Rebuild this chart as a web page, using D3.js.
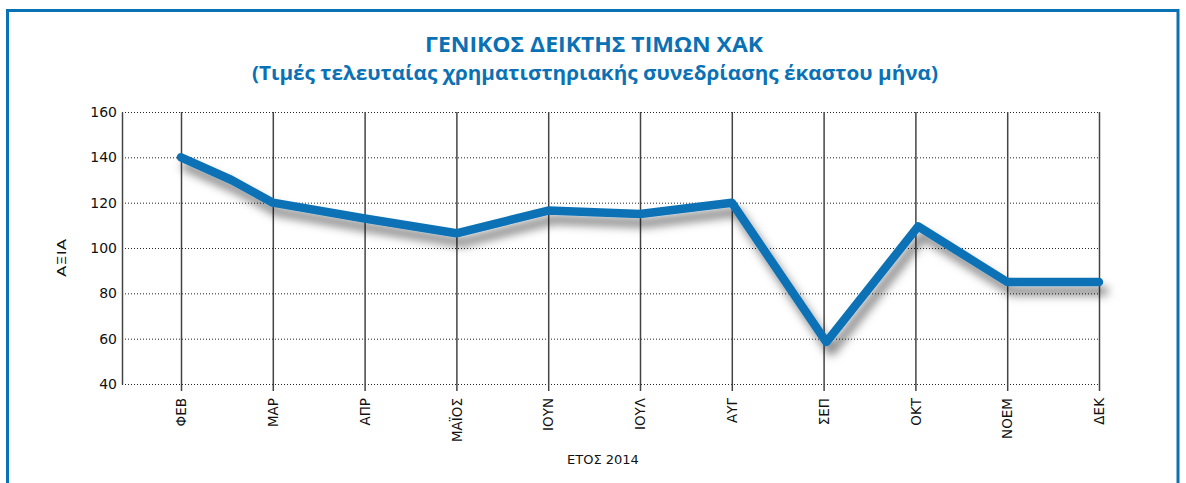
<!DOCTYPE html>
<html>
<head>
<meta charset="utf-8">
<script src="https://cdn.jsdelivr.net/npm/d3@7"></script>
<style>
  body { margin: 0; background: #fff; }
  .tick text { font-family: "DejaVu Sans", sans-serif; fill: #111; }
</style>
</head>
<body>
<div id="chart"></div>
<script>
// month labels on the x axis
const months = ['ΦΕΒ', 'ΜΑΡ', 'ΑΠΡ', 'ΜΑΪΟΣ', 'ΙΟΥΝ', 'ΙΟΥΛ', 'ΑΥΓ', 'ΣΕΠ', 'ΟΚΤ', 'ΝΟΕΜ', 'ΔΕΚ'];
// position of each point in months from ΦΕΒ, and its value
const pointMonth = [0, 0.55, 1, 2, 3, 4, 5, 6, 7.03, 8.03, 9, 10];
const pointValue = [140, 130, 120, 113, 106.5, 116.5, 115, 120, 58.5, 109.5, 85, 85];
const yTicks = [40, 60, 80, 100, 120, 140, 160];

const titleText = 'ΓΕΝΙΚΟΣ ΔΕΙΚΤΗΣ ΤΙΜΩΝ ΧΑΚ';
const subtitleText = '(Τιμές τελευταίας χρηματιστηριακής συνεδρίασης έκαστου μήνα)';
const yTitle = 'ΑΞΙΑ';
const xTitle = 'ΕΤΟΣ 2014';

const W = 1186, H = 483;
const blue = '#0a71b5';
const plot = {left: 122, right: 1099, top: 112, bottom: 384};

var svg = d3.select('#chart').append('svg')
    .attr('width', W)
    .attr('height', H);

var defs = svg.append('defs');
defs.append('filter')
    .attr('id', 'shadow')
    .attr('x', '-10%').attr('y', '-30%')
    .attr('width', '130%').attr('height', '180%')
  .append('feDropShadow')
    .attr('dx', 5).attr('dy', 9)
    .attr('stdDeviation', 5)
    .attr('flood-color', '#000')
    .attr('flood-opacity', 0.5);

// blue frame
svg.append('rect')
    .attr('x', 7.5).attr('y', 10.5)
    .attr('width', 1170.5).attr('height', H)
    .attr('fill', '#fff')
    .attr('stroke', blue)
    .attr('stroke-width', 3);

svg.append('text')
    .attr('x', 594).attr('y', 52)
    .attr('text-anchor', 'middle')
    .attr('textLength', 338)
    .attr('lengthAdjust', 'spacingAndGlyphs')
    .style('font-family', '"Open Sans", sans-serif')
    .style('font-weight', 'bold')
    .style('font-size', '21px')
    .style('fill', blue)
    .text(titleText);

svg.append('text')
    .attr('x', 595).attr('y', 80)
    .attr('text-anchor', 'middle')
    .attr('textLength', 686)
    .attr('lengthAdjust', 'spacingAndGlyphs')
    .style('font-family', '"Open Sans", sans-serif')
    .style('font-weight', 'bold')
    .style('font-size', '20px')
    .style('fill', blue)
    .text(subtitleText);

var x = d3.scaleLinear().domain([0, months.length - 1]).range([181, plot.right]);
var y = d3.scaleLinear().domain([40, 160]).range([plot.bottom, plot.top]);

// dotted horizontal grid
var grid = svg.append('g')
    .attr('transform', 'translate(' + plot.left + ',0)')
    .call(d3.axisLeft(y).tickValues(yTicks).tickSize(-(plot.right - plot.left)).tickFormat(''));
grid.select('.domain').remove();
grid.selectAll('line')
    .attr('stroke', '#222')
    .attr('stroke-dasharray', '1,2');

// y axis
var yAxis = svg.append('g')
    .attr('transform', 'translate(' + plot.left + ',0)')
    .call(d3.axisLeft(y).tickValues(yTicks).tickSize(0).tickPadding(5));
yAxis.select('.domain').attr('stroke', '#444').attr('stroke-width', 1.5);
yAxis.selectAll('text').style('font-size', '14px');

// x axis with full-height gridlines
var xAxis = svg.append('g')
    .attr('transform', 'translate(0,' + plot.bottom + ')')
    .call(d3.axisBottom(x).tickValues(d3.range(months.length)).tickSize(7).tickFormat(i => months[i]));
xAxis.select('.domain').remove();
xAxis.selectAll('line')
    .attr('y1', -(plot.bottom - plot.top))
    .attr('stroke', '#444')
    .attr('stroke-width', 1.5);
xAxis.selectAll('text')
    .attr('transform', 'rotate(-90)')
    .attr('text-anchor', 'end')
    .attr('x', -14).attr('y', 0)
    .attr('dy', '0.35em')
    .style('font-size', '13.5px');

svg.append('text')
    .attr('transform', 'translate(66,258) rotate(-90)')
    .attr('text-anchor', 'middle')
    .attr('textLength', 38)
    .attr('lengthAdjust', 'spacingAndGlyphs')
    .style('font-family', '"DejaVu Sans", sans-serif')
    .style('font-size', '13px')
    .style('fill', '#111')
    .text(yTitle);

svg.append('text')
    .attr('x', 603).attr('y', 464)
    .attr('text-anchor', 'middle')
    .style('font-family', '"DejaVu Sans", sans-serif')
    .style('font-size', '13px')
    .style('fill', '#111')
    .text(xTitle);

var line = d3.line()
    .x(i => x(pointMonth[i]))
    .y(i => y(pointValue[i]));

svg.append('path')
    .datum(d3.range(pointValue.length))
    .attr('d', line)
    .attr('fill', 'none')
    .attr('stroke', blue)
    .attr('stroke-width', 8.5)
    .attr('stroke-linejoin', 'round')
    .attr('stroke-linecap', 'round')
    .attr('filter', 'url(#shadow)');
</script>
</body>
</html>
